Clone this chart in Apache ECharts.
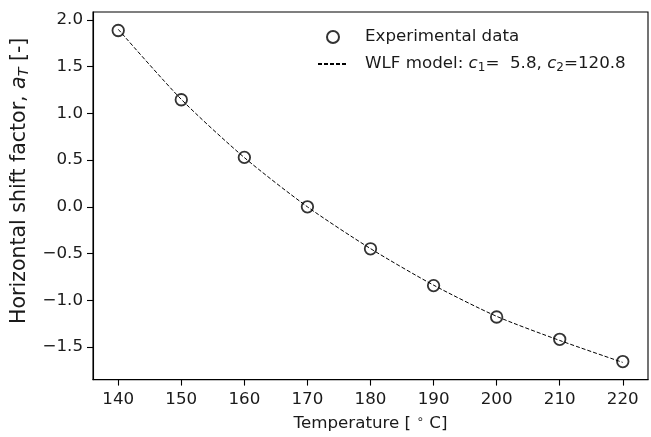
<!DOCTYPE html>
<html>
<head>
<meta charset="utf-8">
<script src="https://cdn.jsdelivr.net/npm/echarts@6/dist/echarts.min.js"></script>
<style>
html,body{margin:0;padding:0;background:#fff;}
#c{width:651px;height:437px;}
</style>
</head>
<body>
<div id="c"></div>
<script>
// Data
var temperatures = [140, 150, 160, 170, 180, 190, 200, 210, 220];
var shiftExperimental = [1.887, 1.146, 0.529, 0.0, -0.449, -0.843, -1.179, -1.418, -1.656];
var wlfTemperatures = [140, 150, 160, 170, 180, 190, 200, 210, 220];
var wlfModel = [1.900, 1.150, 0.527, 0.0, -0.447, -0.838, -1.172, -1.430, -1.665];
var xTicks = [140, 150, 160, 170, 180, 190, 200, 210, 220];
var yTicks = [-1.5, -1.0, -0.5, 0.0, 0.5, 1.0, 1.5, 2.0];

function pairs(xs, ys) { return xs.map(function (x, i) { return [x, ys[i]]; }); }

var FONT = 'DejaVu Sans';
var FS = 16.7;
var FY = 20.5;
var TXT = '#1a1a1a';
var chart = echarts.init(document.getElementById('c'), null, { renderer: 'canvas' });

var rich = {
  n: { fontFamily: FONT, fontSize: FS, color: TXT, lineHeight: 20 },
  i: { fontFamily: FONT, fontSize: FS, fontStyle: 'italic', color: TXT, lineHeight: 20 },
  sub: { fontFamily: FONT, fontSize: 12, color: TXT, lineHeight: 20, verticalAlign: 'bottom' },
  sup: { fontFamily: FONT, fontSize: 12, color: TXT, lineHeight: 20, verticalAlign: 'top' }
};
var richY = {
  n: { fontFamily: FONT, fontSize: FY, color: TXT, lineHeight: 24 },
  i: { fontFamily: FONT, fontSize: FY, fontStyle: 'italic', color: TXT, lineHeight: 24 },
  subi: { fontFamily: FONT, fontSize: FY * 0.7, fontStyle: 'italic', color: TXT, lineHeight: 24, verticalAlign: 'bottom' }
};

chart.setOption({
  animation: false,
  backgroundColor: '#fff',
  grid: { left: 93, top: 12, right: 3, bottom: 53, show: true, borderColor: '#000', borderWidth: 1.1, backgroundColor: 'transparent' },
  legend: {
    orient: 'vertical',
    left: 317,
    top: 28.5,
    padding: 0,
    itemWidth: 30,
    itemHeight: 12,
    itemGap: 10,
    textStyle: { fontFamily: FONT, fontSize: FS, color: TXT, padding: [0, 0, 0, 12], rich: rich },
    formatter: function (name) {
      if (name === 'exp') return '{n|Experimental data}';
      return '{n|WLF model: }{i|c}{sub|1}{n|=  5.8, }{i|c}{sub|2}{n|=120.8}';
    },
    data: [
      { name: 'exp' },
      { name: 'wlf', itemStyle: { color: 'rgba(0,0,0,0)', borderWidth: 0, opacity: 0 } }
    ]
  },
  xAxis: {
    type: 'value',
    min: 136,
    max: 224,
    name: 'Temperature [ {sup|∘} C]',
    nameLocation: 'middle',
    nameGap: 28,
    nameTextStyle: { fontFamily: FONT, fontSize: FS, color: TXT, rich: rich },
    axisLine: { show: true, onZero: false, lineStyle: { color: '#000', width: 1.1 } },
    axisTick: { show: true, inside: false, length: 6, lineStyle: { color: '#000', width: 1.1 }, customValues: xTicks },
    axisLabel: { fontFamily: FONT, fontSize: FS, color: TXT, margin: 12, customValues: xTicks, formatter: function (v) { return String(v); } },
    splitLine: { show: false }
  },
  yAxis: {
    type: 'value',
    min: -1.849,
    max: 2.085,
    name: '{n|Horizontal shift factor, }{i|a}{subi|T}{n| [-]}',
    nameLocation: 'middle',
    nameGap: 47,
    nameTextStyle: { fontFamily: FONT, fontSize: FY, color: TXT, rich: richY, padding: [0, 0, 0, 30] },
    axisLine: { show: true, onZero: false, lineStyle: { color: '#000', width: 1.1 } },
    axisTick: { show: true, inside: false, length: 6, lineStyle: { color: '#000', width: 1.1 }, customValues: yTicks },
    axisLabel: {
      fontFamily: FONT, fontSize: FS, color: TXT, margin: 10, customValues: yTicks,
      formatter: function (v) { return (v < 0 ? '\u2212' : '') + Math.abs(v).toFixed(1); }
    },
    splitLine: { show: false }
  },
  series: [
    {
      name: 'wlf',
      type: 'line',
      data: pairs(wlfTemperatures, wlfModel),
      smooth: 0.25,
      symbol: 'none',
      lineStyle: { color: '#000', width: 1, type: [4, 2] },
      itemStyle: { color: '#000' },
      z: 2
    },
    {
      name: 'exp',
      type: 'scatter',
      data: pairs(temperatures, shiftExperimental),
      symbol: 'circle',
      symbolSize: 11.5,
      itemStyle: { color: 'rgba(0,0,0,0)', borderColor: '#000', borderWidth: 1.8 },
      z: 3
    }
  ]
});
</script>
</body>
</html>
